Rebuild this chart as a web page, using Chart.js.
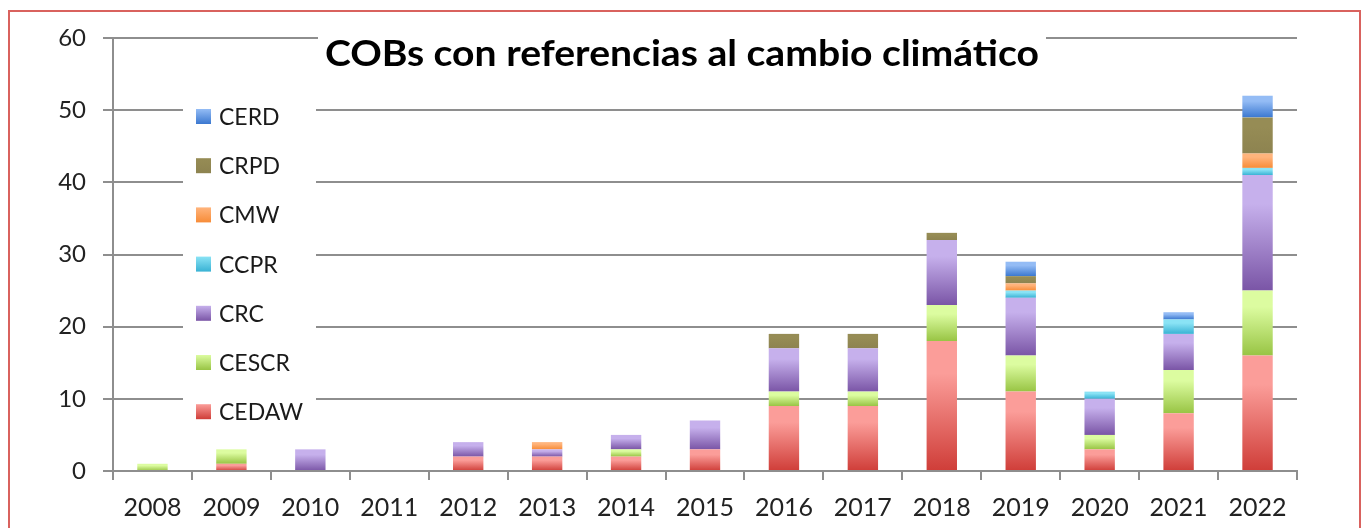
<!DOCTYPE html>
<html>
<head>
<meta charset="utf-8">
<script src="https://cdn.jsdelivr.net/npm/chart.js@4.4.1/dist/chart.umd.min.js"></script>
<style>
  html, body { margin: 0; padding: 0; background: #ffffff; }
  #wrap { position: relative; width: 1362px; height: 528px; overflow: hidden; }
  #c { position: absolute; left: 0; top: 0; }
  #frame { position: absolute; left: 8px; top: 10px; width: 1353px; height: 600px;
           border: 2px solid #d9625e; box-sizing: border-box; pointer-events: none; }
</style>
</head>
<body>
<div id="wrap">
  <canvas id="c" width="1362" height="528"></canvas>
  <div id="frame"></div>
</div>
<script>
const years = ['2008','2009','2010','2011','2012','2013','2014','2015','2016','2017','2018','2019','2020','2021','2022'];
const CEDAW = [0,1,0,0,2,2,2,3,9,9,18,11,3,8,16];
const CESCR = [1,2,0,0,0,0,1,0,2,2,5,5,2,6,9];
const CRC   = [0,0,3,0,2,1,2,4,6,6,9,8,5,5,16];
const CCPR  = [0,0,0,0,0,0,0,0,0,0,0,1,1,2,1];
const CMW   = [0,0,0,0,0,1,0,0,0,0,0,1,0,0,2];
const CRPD  = [0,0,0,0,0,0,0,0,2,2,1,1,0,0,5];
const CERD  = [0,0,0,0,0,0,0,0,0,0,0,2,0,1,3];
const yTicks = [0,10,20,30,40,50,60];
const titleText = 'COBs con referencias al cambio climático';

const seriesList = [
  {label:'CEDAW', data:CEDAW, light:'#fb9d99', dark:'#cf3d38'},
  {label:'CESCR', data:CESCR, light:'#dcfca0', dark:'#98c444'},
  {label:'CRC',   data:CRC,   light:'#c6b0ec', dark:'#7a55a6'},
  {label:'CCPR',  data:CCPR,  light:'#8ae3f5', dark:'#39b2d4'},
  {label:'CMW',   data:CMW,   light:'#ffb47c', dark:'#f78c38'},
  {label:'CRPD',  data:CRPD,  light:'#968c55', dark:'#8d8350'},
  {label:'CERD',  data:CERD,  light:'#94bcf5', dark:'#3b78d0'}
];

function barGradient(dsIndex) {
  return function(ctx) {
    const chart = ctx.chart;
    const s = seriesList[dsIndex];
    const yScale = chart.scales && chart.scales.y;
    if (!yScale || ctx.dataIndex === undefined || ctx.type !== 'data') return s.dark;
    let base = 0;
    for (let k = 0; k < dsIndex; k++) base += seriesList[k].data[ctx.dataIndex];
    const top = base + s.data[ctx.dataIndex];
    const y0 = yScale.getPixelForValue(top);
    const y1 = yScale.getPixelForValue(base);
    if (!isFinite(y0) || !isFinite(y1) || y0 === y1) return s.dark;
    const g = chart.ctx.createLinearGradient(0, y0, 0, y1);
    g.addColorStop(0, s.light);
    g.addColorStop(0.25, s.light);
    g.addColorStop(1, s.dark);
    return g;
  };
}

const overlayPlugin = {
  id: 'overlay',
  beforeDatasetsDraw(chart) {
    const c = chart.ctx;
    c.save();
    c.fillStyle = '#ffffff';
    c.fillRect(318, 28, 728, 50);   // title box
    c.fillRect(183, 92, 133, 343);  // legend box
    c.restore();
  },
  afterDraw(chart) {
    const c = chart.ctx;
    c.save();
    // title
    c.fillStyle = '#000000';
    c.font = 'bold 36px Lato';
    c.textBaseline = 'alphabetic';
    c.textAlign = 'left';
    const tw = c.measureText(titleText).width;
    const targetW = 714;
    const sx = targetW / tw;
    c.save();
    c.translate(325, 66);
    c.scale(sx, 1);
    c.fillText(titleText, 0, 0);
    c.restore();
    // legend
    const order = seriesList.slice().reverse();
    c.font = '23px Lato';
    c.textBaseline = 'middle';
    order.forEach((s, i) => {
      const yc = 116.5 + i * 49.2;
      const g = c.createLinearGradient(0, yc - 7.5, 0, yc + 7.5);
      g.addColorStop(0, s.light);
      g.addColorStop(1, s.dark);
      c.fillStyle = g;
      c.fillRect(196, yc - 7.5, 15, 15);
      c.fillStyle = '#1a1a1a';
      c.fillText(s.label, 219, yc + 1);
    });
    c.restore();
  }
};

function build() {
  Chart.defaults.font.family = 'Lato';
  const datasets = seriesList.map((s, i) => ({
    label: s.label,
    data: s.data,
    backgroundColor: barGradient(i),
    borderWidth: 0,
    barPercentage: 0.77,
    categoryPercentage: 0.5
  }));
  new Chart(document.getElementById('c'), {
    type: 'bar',
    data: { labels: years, datasets },
    options: {
      responsive: false,
      animation: false,
      events: [],
      layout: { padding: { top: 38, left: 0, right: 65, bottom: 0 } },
      plugins: { legend: { display: false }, title: { display: false }, tooltip: { enabled: false } },
      scales: {
        x: {
          stacked: true,
          grid: { display: true, drawOnChartArea: false, drawTicks: true, tickLength: 9,
                  color: '#8e8e8e', lineWidth: 2, offset: true },
          border: { display: true, color: '#8e8e8e', width: 2 },
          ticks: { color: '#222222', font: { size: 25 }, padding: 13, maxRotation: 0, autoSkip: false },
          afterFit(scale) { scale.height = 57; }
        },
        y: {
          stacked: true,
          min: 0, max: 60,
          afterBuildTicks(scale) { scale.ticks = yTicks.map(v => ({ value: v })); },
          grid: { color: '#8e8e8e', lineWidth: 2, tickLength: 10, drawTicks: true },
          border: { display: true, color: '#8e8e8e', width: 2 },
          ticks: { color: '#222222', font: { size: 24 }, padding: 17 },
          afterFit(scale) { scale.width = 113; }
        }
      }
    },
    plugins: [overlayPlugin]
  });
}

const fontsReady = Promise.all([
  document.fonts.load('25px Lato'),
  document.fonts.load('bold 36px Lato'),
  document.fonts.load('23px Lato')
]).catch(() => {});
fontsReady.then(build, build);
</script>
</body>
</html>
